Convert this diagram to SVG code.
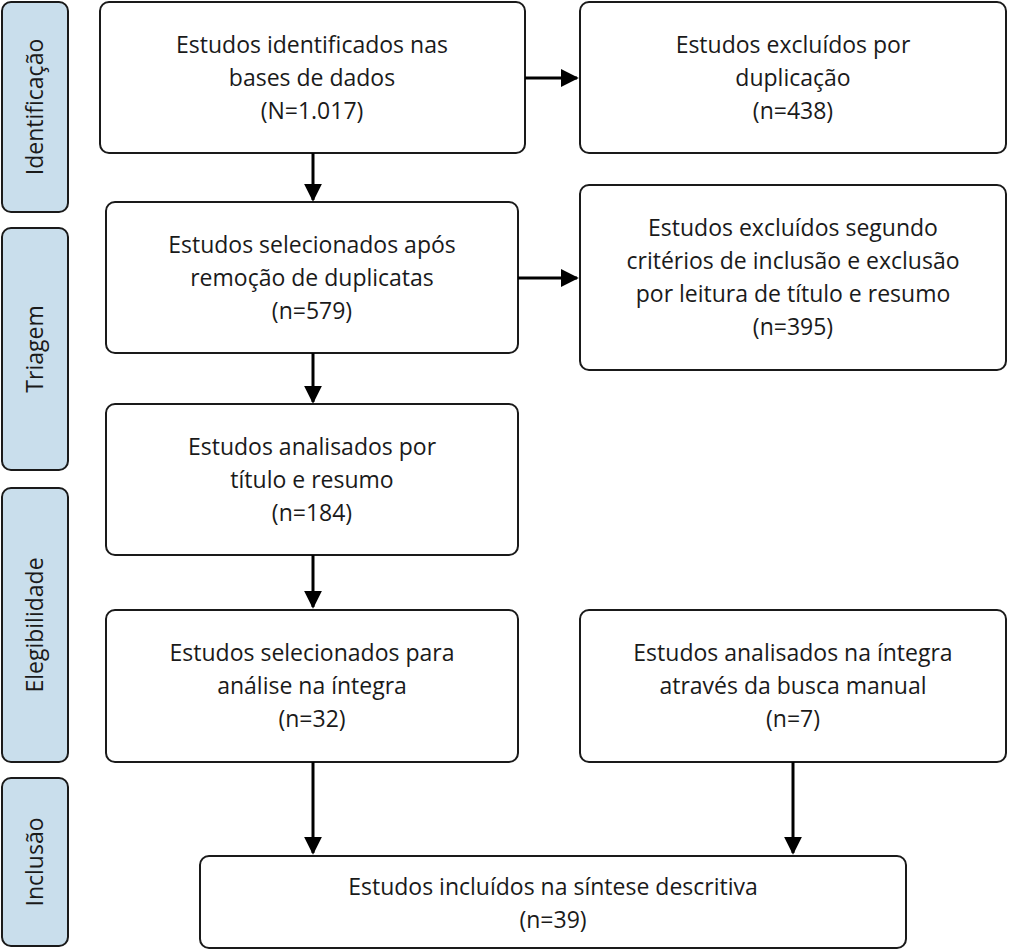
<svg xmlns="http://www.w3.org/2000/svg" width="1009" height="952" viewBox="0 0 1009 952">
<style>
.side{fill:#c9deec;stroke:#1a1a1a;stroke-width:2}
.box{fill:#fff;stroke:#1a1a1a;stroke-width:2}
text{font-family:"Open Sans","Liberation Sans",sans-serif;font-size:23px;fill:#1a1a1a;text-anchor:middle}
.c{stroke:#000;stroke-width:3;fill:none;marker-end:url(#a)}
</style>
<defs><marker id="a" viewBox="0 0 10 10" refX="9" refY="5" markerWidth="6" markerHeight="6" markerUnits="strokeWidth" orient="auto"><path d="M0,0L10,5L0,10z" fill="#000"/></marker></defs>
<rect width="1009" height="952" fill="#fff"/>
<g id="s1"><rect class="side" x="2" y="2" width="66" height="210" rx="9"/><text transform="translate(43,107) rotate(-90)">Identificação</text></g>
<g id="s2"><rect class="side" x="2" y="228" width="66" height="242" rx="9"/><text transform="translate(43,349) rotate(-90)">Triagem</text></g>
<g id="s3"><rect class="side" x="2" y="488" width="66" height="274" rx="9"/><text transform="translate(43,625) rotate(-90)">Elegibilidade</text></g>
<g id="s4"><rect class="side" x="2" y="778" width="66" height="168" rx="9"/><text transform="translate(43,862) rotate(-90)">Inclusão</text></g>
<g id="b1"><rect class="box" x="100" y="2" width="425" height="151" rx="9"/><text x="312" y="53">Estudos identificados nas</text><text x="312" y="86">bases de dados</text><text x="312" y="119">(N=1.017)</text></g>
<g id="b2"><rect class="box" x="580" y="2" width="426" height="151" rx="9"/><text x="793" y="53">Estudos excluídos por</text><text x="793" y="86">duplicação</text><text x="793" y="119">(n=438)</text></g>
<g id="b3"><rect class="box" x="106" y="202" width="412" height="151" rx="9"/><text x="312" y="253">Estudos selecionados após</text><text x="312" y="286">remoção de duplicatas</text><text x="312" y="319">(n=579)</text></g>
<g id="b4"><rect class="box" x="580" y="185" width="426" height="185" rx="9"/><text x="793" y="236">Estudos excluídos segundo</text><text x="793" y="269">critérios de inclusão e exclusão</text><text x="793" y="302">por leitura de título e resumo</text><text x="793" y="335">(n=395)</text></g>
<g id="b5"><rect class="box" x="106" y="404" width="412" height="151" rx="9"/><text x="312" y="455">Estudos analisados por</text><text x="312" y="488">título e resumo</text><text x="312" y="521">(n=184)</text></g>
<g id="b6"><rect class="box" x="106" y="610" width="412" height="152" rx="9"/><text x="312" y="661">Estudos selecionados para</text><text x="312" y="694">análise na íntegra</text><text x="312" y="727">(n=32)</text></g>
<g id="b7"><rect class="box" x="580" y="610" width="426" height="152" rx="9"/><text x="793" y="661">Estudos analisados na íntegra</text><text x="793" y="694">através da busca manual</text><text x="793" y="727">(n=7)</text></g>
<g id="b8"><rect class="box" x="200" y="856" width="706" height="92" rx="9"/><text x="553" y="895">Estudos incluídos na síntese descritiva</text><text x="553" y="928">(n=39)</text></g>
<g id="connectors">
<line class="c" x1="525" y1="78" x2="577" y2="78"/>
<line class="c" x1="313" y1="153" x2="313" y2="200"/>
<line class="c" x1="518" y1="278" x2="577" y2="278"/>
<line class="c" x1="313" y1="353" x2="313" y2="402"/>
<line class="c" x1="313" y1="555" x2="313" y2="607"/>
<line class="c" x1="313" y1="762" x2="313" y2="853"/>
<line class="c" x1="793" y1="762" x2="793" y2="853"/>
</g>
</svg>
